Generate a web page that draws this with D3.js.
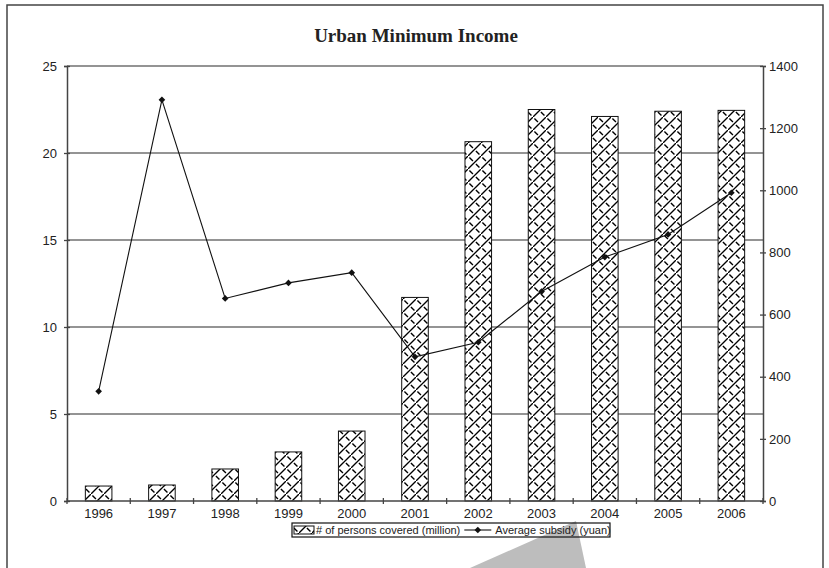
<!DOCTYPE html>
<html><head><meta charset="utf-8">
<script src="https://cdn.jsdelivr.net/npm/d3@7"></script>
<style>html,body{margin:0;padding:0;background:#fff;}svg{display:block;}</style>
</head><body>
<svg id="c" width="829" height="568"></svg>
<script>
const years = ["1996","1997","1998","1999","2000","2001","2002","2003","2004","2005","2006"];
const persons = [0.86, 0.92, 1.84, 2.82, 4.02, 11.7, 20.65, 22.5, 22.1, 22.4, 22.45];
const subsidy = [353, 1291, 652, 702, 735, 464, 511, 674, 785, 858, 992];
const leftTicks = [0, 5, 10, 15, 20, 25];
const rightTicks = [0, 200, 400, 600, 800, 1000, 1200, 1400];
const title = "Urban Minimum Income";
const legendLabels = ["# of persons covered (million)", "Average subsidy (yuan)"];

const svg = d3.select("#c");
const L = 67, R = 763, T = 66, B = 501;
const x = d3.scaleBand().domain(years).range([L, R]).paddingInner(0.58).paddingOuter(0.29);
const yL = d3.scaleLinear().domain([0, 25]).range([B, T]);
const yR = d3.scaleLinear().domain([0, 1400]).range([B, T]);

// lattice pattern: solid "/" and dashed "\"
const defs = svg.append("defs");
const pat = defs.append("pattern").attr("id","zz").attr("patternUnits","userSpaceOnUse")
  .attr("width",13).attr("height",13);
pat.append("rect").attr("width",13).attr("height",13).attr("fill","#fff");
pat.append("path").attr("d","M-1,14 L14,-1").attr("stroke","#000").attr("stroke-width",1.3);
pat.append("path").attr("d","M0,0 L13,13").attr("stroke","#000").attr("stroke-width",1.4)
  .attr("stroke-dasharray","5,4.2").attr("stroke-dashoffset",-2);

// watermark shape
svg.append("path").attr("d","M470,568 L576,521 L586,568 Z").attr("fill","#bdbdbd");

// frame
svg.append("rect").attr("x",7).attr("y",5).attr("width",816).attr("height",600)
  .attr("fill","none").attr("stroke","#444").attr("stroke-width",1.5);

// title
svg.append("text").attr("x",416).attr("y",42).attr("text-anchor","middle")
  .attr("font-family","Liberation Serif, Times New Roman, serif").attr("font-weight","bold")
  .attr("font-size",19).attr("fill","#222").text(title);

// gridlines
svg.append("g").selectAll("line").data(leftTicks.filter(d=>d>0)).join("line")
  .attr("x1",L).attr("x2",R).attr("y1",d=>yL(d)).attr("y2",d=>yL(d))
  .attr("stroke","#707070").attr("stroke-width",1.5);

// bars
svg.append("g").selectAll("rect").data(years).join("rect")
  .attr("x",d=>x(d)).attr("width",x.bandwidth())
  .attr("y",(d,i)=>yL(persons[i])).attr("height",(d,i)=>B-yL(persons[i]))
  .attr("fill","url(#zz)").attr("stroke","#111").attr("stroke-width",1);

// axes
const font = "Liberation Sans, Arial, sans-serif";
const ax = svg.append("g").attr("transform",`translate(0,${B})`)
  .call(d3.axisBottom(x).tickSize(0).tickPadding(8));
ax.select(".domain").remove();
ax.selectAll("text").attr("font-family",font).attr("font-size",13).attr("fill","#222");
svg.append("g").selectAll("line").data(d3.range(years.length+1)).join("line")
  .attr("x1",i=>L + i*x.step()).attr("x2",i=>L + i*x.step())
  .attr("y1",B-3).attr("y2",B+3).attr("stroke","#444").attr("stroke-width",1.3);
svg.append("line").attr("x1",L).attr("x2",R).attr("y1",B).attr("y2",B).attr("stroke","#444").attr("stroke-width",1.5);

const ay = svg.append("g").attr("transform",`translate(${L},0)`)
  .call(d3.axisLeft(yL).tickValues(leftTicks).tickSize(3).tickPadding(7));
ay.select(".domain").attr("stroke","#444").attr("stroke-width",1.5);
ay.selectAll(".tick line").attr("stroke","#444").attr("stroke-width",1.3).attr("x2",-3).attr("x1",3);
ay.selectAll("text").attr("font-family",font).attr("font-size",13).attr("fill","#222");

const ar = svg.append("g").attr("transform",`translate(${R},0)`)
  .call(d3.axisRight(yR).tickValues(rightTicks).tickFormat(d3.format("d")).tickSize(3).tickPadding(3));
ar.select(".domain").attr("stroke","#444").attr("stroke-width",1.5);
ar.selectAll(".tick line").attr("stroke","#444").attr("stroke-width",1.3).attr("x1",-3).attr("x2",3);
ar.selectAll("text").attr("font-family",font).attr("font-size",13).attr("fill","#222");

// line
const cx = i => x(years[i]) + x.bandwidth()/2;
svg.append("path").datum(subsidy)
  .attr("d", d3.line().x((d,i)=>cx(i)).y(d=>yR(d)))
  .attr("fill","none").attr("stroke","#111").attr("stroke-width",1.1);
const diamond = d3.symbol().type(d3.symbolDiamond2).size(28);
svg.append("g").selectAll("path").data(subsidy).join("path")
  .attr("transform",(d,i)=>`translate(${cx(i)},${yR(d)})`)
  .attr("d",diamond).attr("fill","#111");

// legend
const lg = svg.append("g");
const ly = 530;
lg.append("rect").attr("x",292).attr("y",523).attr("width",318).attr("height",14)
  .attr("fill","none").attr("stroke","#111").attr("stroke-width",1.2);
lg.append("rect").attr("x",294).attr("y",526).attr("width",20).attr("height",8)
  .attr("fill","url(#zz)").attr("stroke","#111").attr("stroke-width",1);
const t1 = lg.append("text").attr("x",316).attr("y",ly+4).attr("font-family",font).attr("font-size",11)
  .attr("fill","#222").text(legendLabels[0]);
const w1 = t1.node().getComputedTextLength();
const lx = 316 + w1 + 4;
lg.append("line").attr("x1",lx).attr("x2",lx+27).attr("y1",ly).attr("y2",ly).attr("stroke","#111").attr("stroke-width",1.1);
lg.append("path").attr("transform",`translate(${lx+13.5},${ly})`).attr("d",diamond).attr("fill","#111");
lg.append("text").attr("x",lx+31).attr("y",ly+4).attr("font-family",font).attr("font-size",11)
  .attr("fill","#222").text(legendLabels[1]);
</script>
</body></html>
